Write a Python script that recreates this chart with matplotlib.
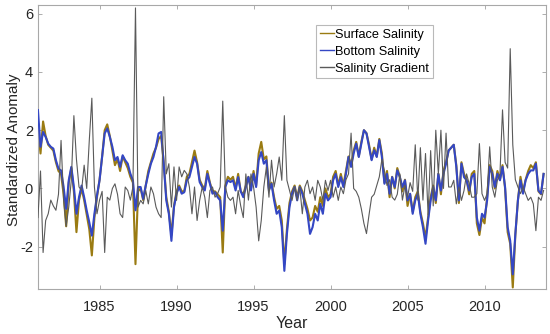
import matplotlib
matplotlib.use('Agg')
import matplotlib.pyplot as plt
import numpy as np

plt.rcParams['font.family'] = ['Liberation Sans', 'DejaVu Sans']
plt.rcParams['axes.unicode_minus'] = False

# bimonthly samples, 1981.0 .. 2013.83
start_year = 1981
per_year = 6

bottom = [
    2.69, 1.43, 1.94, 1.77, 1.54, 1.43,   # 1981
    1.37, 0.97, 0.68, 0.62, 0.05, -0.70,  # 1982
    0.28, 0.74, 0.05, -0.87, -0.30, 0.10,  # 1983
    -0.30, -0.76, -1.16, -1.62, -0.87, -0.24,  # 1984
    0.28, 1.08, 1.89, 2.06, 1.77, 1.43,   # 1985
    0.97, 1.08, 0.74, 1.14, 0.97, 0.85,   # 1986
    0.51, 0.28, -0.75, 0.05, 0.05, -0.36,  # 1987
    0.10, 0.50, 0.85, 1.08, 1.43, 1.89,   # 1988
    1.94, 0.85, -0.41, -0.87, -1.80, -0.64,  # 1989
    -0.18, 0.05, -0.18, -0.13, 0.28, 0.39,  # 1990
    0.74, 1.08, 0.85, 0.22, 0.05, -0.07,  # 1991
    0.50, 0.16, -0.18, -0.13, -0.30, -0.41,  # 1992
    -1.45, 0.05, 0.28, 0.22, 0.28, -0.07,  # 1993
    0.39, -0.10, -0.30, 0.05, 0.39, -0.07,  # 1994
    0.50, 0.05, 0.97, 1.25, 0.85, 0.97,   # 1995
    -0.07, 0.16, -0.41, -0.87, -0.76, -1.33,  # 1996
    -2.83, -1.56, -0.64, -0.18, 0.05, -0.41,  # 1997
    0.05, -0.18, -0.53, -0.87, -1.56, -1.33,  # 1998
    -0.87, -1.10, -0.53, -0.87, -0.18, -0.41,  # 1999
    -0.30, 0.28, 0.50, 0.05, 0.39, 0.05,  # 2000
    0.50, 1.08, 0.74, 1.20, 1.54, 1.08,   # 2001
    1.54, 2.00, 1.89, 1.43, 0.97, 1.31,   # 2002
    1.08, 1.66, 1.08, 0.16, 0.50, -0.18,  # 2003
    0.39, 0.05, 0.62, 0.39, 0.05, 0.28,   # 2004
    -0.41, -0.18, -0.87, -0.41, -0.18, -0.87,  # 2005
    -1.33, -1.90, -1.10, -0.41, 0.05, -0.41,  # 2006
    0.50, -0.07, 0.50, 0.85, 1.30, 1.40,  # 2007
    1.50, 0.74, -0.41, 0.85, 0.39, 0.28,  # 2008
    -0.07, 0.39, 0.50, -1.00, -1.45, -0.87,  # 2009
    -1.00, -0.41, 0.74, 0.50, 0.05, 0.50,  # 2010
    0.28, 0.74, 0.05, -1.33, -1.80, -2.95,  # 2011
    -1.56, -0.41, 0.28, -0.18, 0.28, 0.50,  # 2012
    0.62, 0.62, 0.85, -0.07, -0.18, 0.50,  # 2013
]

surface = [
    2.0, 1.2, 2.3, 1.8, 1.5, 1.4,
    1.3, 0.9, 0.6, 0.5, -0.2, -1.3,
    0.2, 0.7, -0.1, -1.5, -0.4, 0.0,
    -0.4, -0.9, -1.4, -2.3, -1.0, -0.3,
    0.3, 1.1, 2.0, 2.2, 1.8, 1.3,
    0.8, 1.0, 0.6, 1.1, 0.9, 0.7,
    0.4, 0.2, -2.6, -0.1, 0.0, -0.4,
    0.1, 0.6, 0.9, 1.2, 1.4, 1.7,
    1.8, 0.9, -0.3, -0.8, -1.6, -0.6,
    -0.1, 0.1, -0.1, -0.1, 0.4, 0.5,
    0.9, 1.3, 0.9, 0.3, 0.1, 0.0,
    0.6, 0.2, -0.1, -0.1, -0.2, -0.3,
    -2.2, 0.1, 0.4, 0.3, 0.4, 0.0,
    0.5, -0.1, -0.2, 0.1, 0.4, 0.0,
    0.6, 0.1, 1.2, 1.6, 1.0, 1.1,
    0.0, 0.2, -0.3, -0.7, -0.6, -1.1,
    -2.6, -1.4, -0.5, -0.1, 0.1, -0.3,
    0.1, -0.1, -0.4, -0.7, -1.1, -1.0,
    -0.6, -0.8, -0.3, -0.6, 0.0, -0.3,
    -0.2, 0.4, 0.6, 0.1, 0.5, 0.1,
    0.6, 1.1, 0.8, 1.3, 1.6, 1.1,
    1.6, 2.0, 1.9, 1.5, 1.0, 1.4,
    1.1, 1.7, 1.2, 0.2, 0.6, -0.3,
    0.4, 0.0, 0.7, 0.4, -0.1, 0.3,
    -0.6, -0.2, -0.8, -0.3, -0.1, -0.8,
    -1.2, -1.7, -1.0, -0.3, 0.1, -0.5,
    0.5, -0.2, 0.6, 0.9, 1.3, 1.4,
    1.5, 0.8, -0.5, 0.9, 0.5, 0.3,
    -0.2, 0.5, 0.6, -1.2, -1.6, -1.0,
    -1.2, -0.3, 0.8, 0.6, 0.0, 0.6,
    0.3, 0.8, 0.0, -1.5, -1.9, -3.4,
    -1.6, -0.4, 0.4, -0.1, 0.3, 0.6,
    0.8, 0.7, 0.9, -0.1, -0.2, 0.5,
]

gradient = [
    -1.0, 0.6, -2.2, -1.1, -0.87, -0.4,
    -0.6, -0.75, -0.2, 1.65, -0.4, -1.3,
    -0.64, 0.28, 2.5, 1.0, 0.05, -0.07,
    0.8, 0.0, 1.65, 3.1, 0.05, -0.87,
    -0.4, -0.1, -2.2, -0.3, -0.4, 0.0,
    0.16, -0.2, -0.87, -1.0, 0.05, -0.07,
    -0.4, 0.05, 6.2, -0.64, -0.41, -0.53,
    -0.07, -0.53, 0.05, -0.18, -0.64, -0.87,
    -1.0, 3.15, 0.5, 0.85, -0.64, 0.74,
    -0.41, 0.74, 0.4, 0.62, 0.5, 0.05,
    -0.87, 0.05, -1.1, -0.41, 0.05, -0.3,
    -1.0, -0.07, 0.05, -0.3, -0.18, 0.05,
    3.0, 0.05, -0.3, -0.41, -0.3, -0.87,
    -0.07, -0.6, -1.0, 0.5, -0.4, 0.5,
    0.05, -0.64, -1.8, -1.1, 0.05, 0.74,
    -0.3, 0.97, 0.05, 0.5, 1.08, 0.28,
    2.5, 0.28, -0.07, -0.41, 0.05, -0.41,
    0.05, -0.87, 0.05, 0.28, -0.18, 0.05,
    -0.41, 0.28, 0.05, -0.41, 0.28, -0.07,
    0.28, -0.3, 0.05, -0.41, 0.05, -0.18,
    0.3, 0.5, 1.9, 0.0, -0.1, -0.3,
    -0.7, -1.2, -1.55, -0.9, -0.3, -0.2,
    0.1, 0.4, 1.0, 0.6, 0.1, 0.3,
    -0.3, -0.4, -0.2, 0.5, -0.4, 0.1,
    -0.3, 0.2, -0.1, 1.5, -0.4, 1.4,
    -0.4, 1.2, -0.9, 1.3, -0.6, 2.0,
    0.5, 2.0, 0.0, 1.9, 0.05, 0.05,
    0.28, -0.53, 0.05, -0.41, -0.07, 0.5,
    0.16, -0.3, -0.3, -0.18, 1.54, -0.18,
    -0.41, -0.18, 1.43, 0.05, -0.3, 0.28,
    0.5, 2.7, 0.9, 0.7, 4.8, 1.5,
    0.3, 0.05, -0.18, 0.05, -0.18, -0.41,
    -0.3, -0.53, -1.45, -0.3, -0.41, -0.07,
]

series_names = ['Surface Salinity', 'Bottom Salinity', 'Salinity Gradient']
xticks = [1985, 1990, 1995, 2000, 2005, 2010]
yticks = [-2, 0, 2, 4, 6]

years = start_year + np.arange(len(bottom)) / per_year

fig = plt.figure(figsize=(5.5, 3.34), dpi=100)
ax = fig.add_axes([0.069, 0.135, 0.924, 0.85])

ax.plot(years, surface, color='#9a7b12', lw=1.5, label=series_names[0], zorder=2)
ax.plot(years, bottom, color='#3447c4', lw=1.5, label=series_names[1], zorder=3)
ax.plot(years, gradient, color='#5a5a5a', lw=0.8, label=series_names[2], zorder=4)

ax.set_xlim(1981, 2014)
ax.set_ylim(-3.45, 6.3)
ax.set_xticks(xticks)
ax.set_yticks(yticks)
ax.tick_params(direction='in', length=3, top=True, right=True,
               labelsize=10.5, colors='#a0a0a0', labelcolor='#262626', width=0.6)
ax.tick_params(axis='x', pad=8)
for s in ax.spines.values():
    s.set_color('#a8a8a8')
    s.set_linewidth(0.8)

ax.set_xlabel('Year', fontsize=11.5, color='#262626')
ax.set_ylabel('Standardized Anomaly', fontsize=11, color='#262626')
ax.xaxis.set_label_coords(0.5, -0.095)
ax.yaxis.set_label_coords(-0.034, 0.49)

leg = ax.legend(loc='upper left', bbox_to_anchor=(316 / 550, 1 - 25 / 334),
                bbox_transform=fig.transFigure, fontsize=9.2, handlelength=1.1,
                handletextpad=0.1, borderpad=0.3, labelspacing=0.38,
                frameon=True, fancybox=False, borderaxespad=0)
leg.get_frame().set_edgecolor('#a8a8a8')
leg.get_frame().set_linewidth(0.8)
for h in leg.get_lines():
    h.set_linewidth(1.0)

fig.savefig('out.png', dpi=100, facecolor='white')
